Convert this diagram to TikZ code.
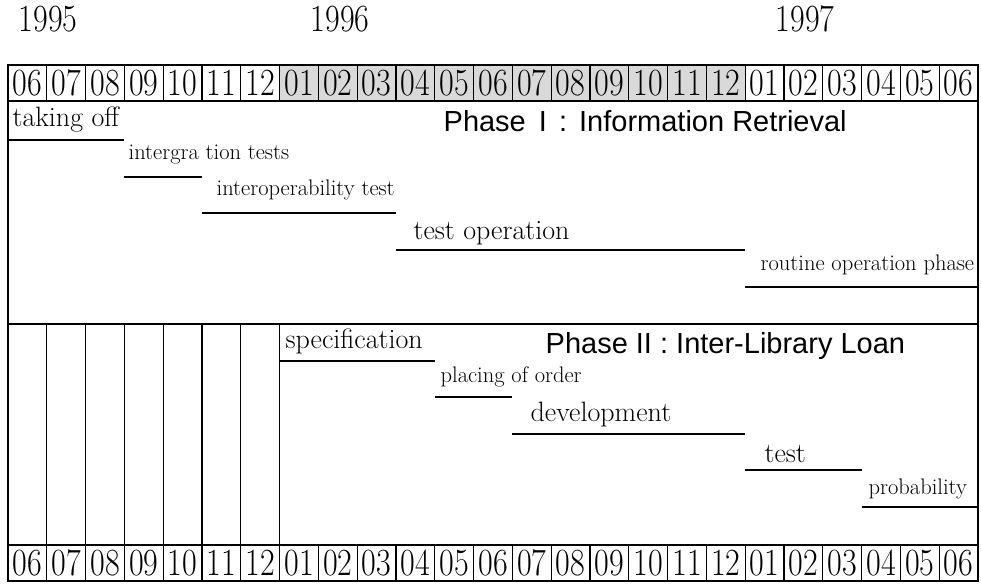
\documentclass[tikz,border=0pt]{standalone}
\usepackage{fontspec}
\setsansfont{Liberation Sans}
\definecolor{headgray}{RGB}{217,217,217}
\newcommand\tallnum[1]{\scalebox{1}[1.2]{#1}}
\begin{document}
\begin{tikzpicture}[x=1pt, y=-1pt, line width=1.3pt,
    month/.style={inner sep=0pt, font=\fontsize{32}{32}\selectfont},
    task/.style={anchor=base west, inner sep=0pt, font=\fontsize{28}{30}\selectfont},
    smalltask/.style={task, font=\fontsize{22.5}{24}\selectfont},
    phase/.style={anchor=base west, inner sep=0pt, font=\sffamily\fontsize{29}{30}\selectfont},
    bar/.style={line width=1.5pt}]
    \useasboundingbox (0,0) rectangle (981,583);

    % Years
    \node[month, anchor=base west] (y95) at (18,32) {\tallnum{1995}};
    \node[month, anchor=base west] (y96) at (310,32) {\tallnum{1996}};
    \node[month, anchor=base west] (y97) at (775,32) {\tallnum{1997}};

    % Month rows, 1996 shaded
    \fill[headgray] (8+38.8*7,65) rectangle (8+38.8*19,101);
    \foreach \top in {65,545} {
        \draw (8,\top) rectangle (978,\top+36);
        \foreach \i in {1,...,24}
            \draw (8+38.8*\i,\top) -- ++(0,36);
    }
    \foreach \m [count=\i from 0] in {06,07,08,09,10,11,12,01,02,03,04,05,06,07,08,09,10,11,12,01,02,03,04,05,06} {
        \node[month] (top\i) at (27.4+38.8*\i,83) {\tallnum{\m}};
        \node[month] (bot\i) at (27.4+38.8*\i,563) {\tallnum{\m}};
    }

    % Frame, phase divider and 1995 columns
    \draw (8,101) -- (8,545);
    \draw (978,101) -- (978,545);
    \draw (8,324) -- (978,324);
    \foreach \i in {1,...,7}
        \draw (8+38.8*\i,324) -- (8+38.8*\i,545);

    % Phase I
    \node[phase] (p1) at (443,131) {Phase\hspace{5pt} I\hspace{4pt} :\hspace{4pt} Information Retrieval};
    \node[task] (takeoff) at (12,126) {taking off};
    \draw[bar] (8,140) -- ++(38.8*3,0);
    \node[smalltask] (integ) at (128,159) {intergra tion tests};
    \draw[bar] (8+38.8*3,177) -- ++(38.8*2,0);
    \node[smalltask] (interop) at (216,195) {interoperability test};
    \draw[bar] (8+38.8*5,213) -- ++(38.8*5,0);
    \node[task] (testop) at (413,239) {test operation};
    \draw[bar] (8+38.8*10,250) -- ++(38.8*9,0);
    \node[smalltask] (routine) at (760,270) {routine operation phase};
    \draw[bar] (8+38.8*19,287) -- ++(38.8*6,0);

    % Phase II
    \node[phase] (p2) at (545,353) {Phase II : Inter-Library Loan};
    \node[task] (spec) at (285,348) {specification};
    \draw[bar] (8+38.8*7,361) -- ++(38.8*4,0);
    \node[smalltask] (order) at (440,382) {placing of order};
    \draw[bar] (8+38.8*11,397) -- ++(38.8*2,0);
    \node[task] (devel) at (530,421) {development};
    \draw[bar] (8+38.8*13,434) -- ++(38.8*6,0);
    \node[task] (test) at (764,462) {test};
    \draw[bar] (8+38.8*19,470) -- ++(38.8*3,0);
    \node[smalltask] (prob) at (868,494) {probability};
    \draw[bar] (8+38.8*22,507) -- ++(38.8*3,0);
\end{tikzpicture}
\end{document}
